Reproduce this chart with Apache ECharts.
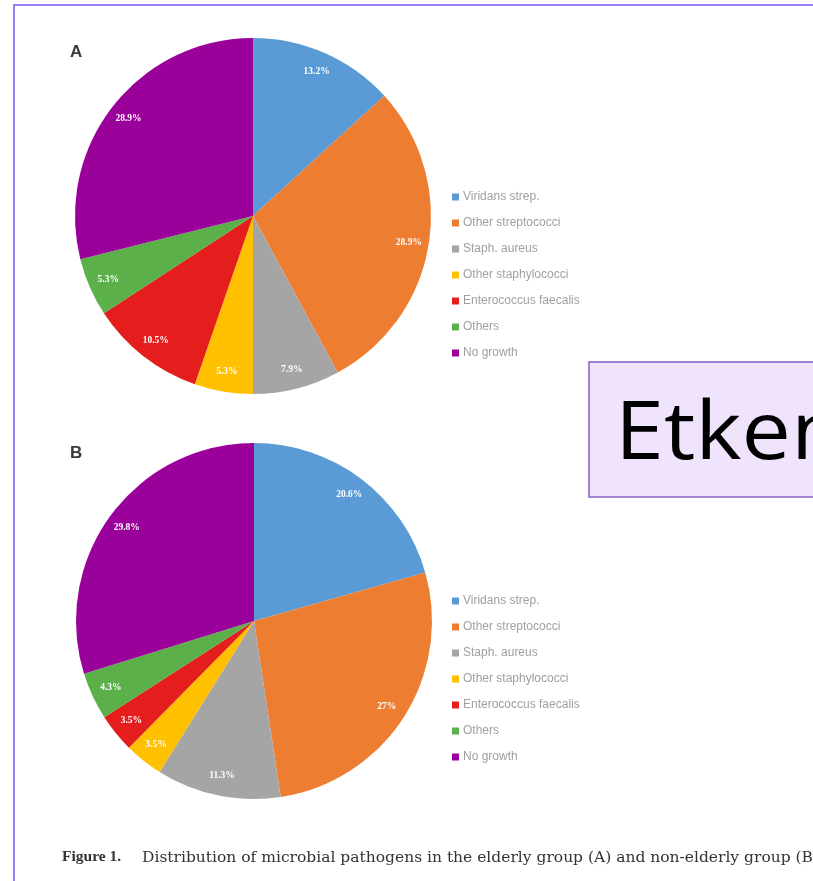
<!DOCTYPE html>
<html>
<head>
<meta charset="utf-8">
<script src="https://cdn.jsdelivr.net/npm/echarts@6/dist/echarts.min.js"></script>
<style>html,body{margin:0;padding:0;background:#fff;}#c{width:813px;height:881px;}</style>
</head>
<body>
<div id="c"></div>
<script>
const categories = ['Viridans strep.', 'Other streptococci', 'Staph. aureus', 'Other staphylococci', 'Enterococcus faecalis', 'Others', 'No growth'];
const elderlyValues = [13.2, 28.9, 7.9, 5.3, 10.5, 5.3, 28.9];
const nonElderlyValues = [20.6, 27, 11.3, 3.5, 3.5, 4.3, 29.8];
const sliceColors = ['#5b9bd5', '#ed7d31', '#a5a5a5', '#ffc000', '#e41d1d', '#5bb04a', '#9a009a'];
const panelLabels = ['A', 'B'];
const captionLead = 'Figure 1.';
const caption = 'Distribution of microbial pathogens in the elderly group (A) and non-elderly group (B)';
const boxText = 'Etken';

const chart = echarts.init(document.getElementById('c'), null, {renderer: 'canvas'});

function fmt(v) { return v + '%'; }

function pieSeries(values, center, withLabels) {
  const data = categories.map((n, i) => ({name: n, value: values[i], itemStyle: {color: withLabels ? 'rgba(0,0,0,0)' : sliceColors[i]}}));
  return {
    type: 'pie',
    center: center,
    radius: withLabels ? [132, 178] : [0, 178],
    startAngle: 90,
    clockwise: true,
    animation: false,
    silent: withLabels,
    data: data,
    itemStyle: {borderWidth: 0},
    label: withLabels ? {
      show: true, position: 'inside', color: '#fff', fontSize: 9.5, fontWeight: 'bold',
      fontFamily: 'Liberation Serif', formatter: p => fmt(p.value)
    } : {show: false},
    labelLine: {show: false},
    emphasis: {disabled: true}
  };
}

function legend(top) {
  return {
    orient: 'vertical', left: 452, top: top, padding: 0, itemWidth: 7, itemHeight: 7, itemGap: 14,
    icon: 'rect', data: categories,
    textStyle: {color: '#a0a0a0', fontSize: 12, fontFamily: 'Liberation Sans', lineHeight: 12, padding: [0, 0, 0, -1]}
  };
}

chart.setOption({
  backgroundColor: '#ffffff',
  animation: false,
  legend: [legend(191), legend(595)],
  series: [
    pieSeries(elderlyValues, [253, 216], false),
    pieSeries(elderlyValues, [253, 216], true),
    pieSeries(nonElderlyValues, [254, 621], false),
    pieSeries(nonElderlyValues, [254, 621], true)
  ],
  graphic: [
    {type: 'rect', shape: {x: 14, y: 5, width: 900, height: 950}, style: {fill: 'none', stroke: '#9d7ef2', lineWidth: 2}, silent: true},
    {type: 'text', left: 70, top: 44, style: {text: panelLabels[0], fontSize: 17, fontWeight: 'bold', fill: '#3a3a3a', fontFamily: 'Liberation Sans'}},
    {type: 'text', left: 70, top: 445, style: {text: panelLabels[1], fontSize: 17, fontWeight: 'bold', fill: '#3a3a3a', fontFamily: 'Liberation Sans'}},
    {type: 'rect', shape: {x: 589, y: 362, width: 260, height: 135}, style: {fill: '#f0e4fc', stroke: '#8b5cc4', lineWidth: 1.5}},
    {type: 'text', x: 615, y: 396, scaleX: 1.1, style: {text: boxText, fontSize: 80, fill: '#000', fontFamily: 'Open Sans'}},
    {type: 'text', x: 62, y: 849, style: {text: captionLead, fontWeight: 'bold', fontSize: 15.5, fontFamily: 'Liberation Serif', fill: '#333'}},
    {type: 'text', x: 142, y: 850, style: {text: caption, fontSize: 15.5, fontFamily: 'DejaVu Serif', fill: '#333'}}
  ]
});
</script>
</body>
</html>
